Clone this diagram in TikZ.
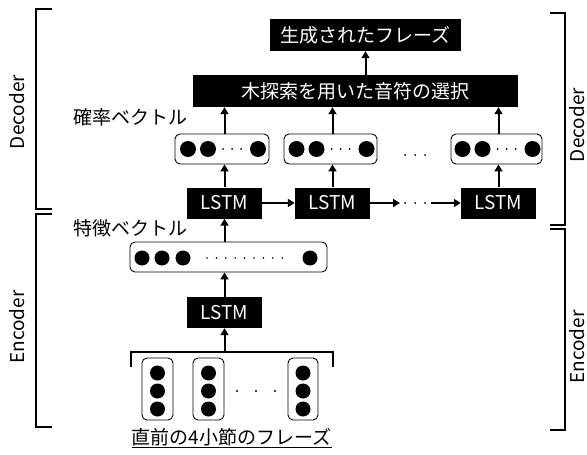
\documentclass[tikz,border=0pt]{standalone}
\usepackage{fontspec}
\setmainfont{Noto Sans CJK JP}
\usetikzlibrary{arrows.meta}
\begin{document}
\begin{tikzpicture}[x=1pt,y=-1pt,
  txt/.style={font=\fontsize{19pt}{22pt}\selectfont, inner sep=0pt},
  blk/.style={txt, fill=black, text=white},
  vec/.style={draw, rounded corners=5pt, line width=0.9pt, inner sep=0pt},
  conn/.style={line width=2pt, -{Triangle[length=7pt,width=8pt]}},
  brk/.style={line width=2pt},
  bigdot/.style={fill=black},
  smalldot/.style={fill=black}
]
\useasboundingbox (0,0) rectangle (587,455);

% decoder part
\node[blk, minimum width=191pt, minimum height=32pt] (gen) at (365.5,35) {生成されたフレーズ};
\node[blk, minimum width=325pt, minimum height=32pt] (sel) at (355.5,91) {木探索を用いた音符の選択};

\node[vec, minimum width=94pt, minimum height=30pt] (prob1) at (222,149) {};
\node[vec, minimum width=93pt, minimum height=30pt] (prob2) at (330.5,149) {};
\node[vec, minimum width=91pt, minimum height=30pt] (prob3) at (496.5,149) {};

\node[blk, minimum width=75pt, minimum height=31pt] (lstm1) at (224.5,203) {LSTM};
\node[blk, minimum width=75pt, minimum height=31pt] (lstm2) at (332.5,203) {LSTM};
\node[blk, minimum width=75pt, minimum height=31pt] (lstm3) at (498.5,203) {LSTM};

\node[txt, anchor=west] (plabel) at (73,117) {確率ベクトル};
\node[txt, anchor=west] (flabel) at (73,228) {特徴ベクトル};

% dots in prob boxes
\foreach \bx in {0,108.5,274.5}{
  \fill[bigdot] (188+\bx,149) circle (8pt);
  \fill[bigdot] (208+\bx,149) circle (8pt);
  \fill[bigdot] (258+\bx,149) circle (8pt);
  \foreach \sx in {223,232,241} \fill[smalldot] (\sx+\bx,149) circle (1pt);
}
\foreach \sx in {405,415,425} \fill[smalldot] (\sx,155) circle (1pt);

% arrows decoder
\draw[conn] (sel.north -| gen) -- (gen.south);
\draw[conn] (lstm1 |- prob1.north) -- (lstm1 |- sel.south);
\draw[conn] (lstm2 |- prob2.north) -- (lstm2 |- sel.south);
\draw[conn] (lstm3 |- prob3.north) -- (lstm3 |- sel.south);
\draw[conn] (lstm1.north) -- (lstm1 |- prob1.south);
\draw[conn] (lstm2.north) -- (lstm2 |- prob2.south);
\draw[conn] (lstm3.north) -- (lstm3 |- prob3.south);
\draw[conn] (lstm1.east) -- (lstm2.west);
\coordinate (d1) at (400,203);
\coordinate (d2) at (431,203);
\draw[conn] (lstm2.east) -- (d1);
\draw[conn] (d2) -- (lstm3.west);
\foreach \sx in {405,415,425} \fill[smalldot] (\sx,203) circle (1pt);

% encoder part
\node[vec, minimum width=197pt, minimum height=30pt] (feat) at (228.5,257) {};
\foreach \dx in {142,162,183} \fill[bigdot] (\dx,258) circle (7.5pt);
\fill[bigdot] (310,258) circle (7.5pt);
\foreach \k in {0,...,8} \fill[smalldot] (207+\k*9.4,258) circle (0.9pt);

\node[blk, minimum width=75pt, minimum height=31pt] (elstm) at (224.5,312.5) {LSTM};

\node[vec, minimum width=31pt, minimum height=62pt] (in1) at (157.5,389) {};
\node[vec, minimum width=31pt, minimum height=62pt] (in2) at (208.5,389) {};
\node[vec, minimum width=30pt, minimum height=62pt] (in3) at (303,389) {};
\foreach \cx in {157.5,208.5,303}
  \foreach \cy in {373,391,409} \fill[bigdot] (\cx,\cy) circle (7.5pt);
\foreach \sx in {237,256,275} \fill[smalldot] (\sx,391) circle (1.2pt);

\coordinate (bl) at (131,367);
\coordinate (br) at (333,367);
\coordinate (bm) at (224.5,352);
\draw[line width=2pt] (bl) -- (131,352) -- (333,352) -- (br);
\draw[conn] (bm) -- (elstm.south);
\draw[conn] (elstm.north) -- (elstm |- feat.south);
\draw[conn] (elstm |- feat.north) -- (lstm1.south);

\node[txt] (inlabel) at (231.5,437) {直前の4小節のフレーズ};
\draw[line width=0.8pt] ([yshift=-1.5pt]inlabel.south west) -- ([yshift=-1.5pt]inlabel.south east);

% brackets
\draw[brk] (52,9) -- (36,9) -- (36,209) -- (52,209);
\draw[brk] (52,214) -- (36,214) -- (36,427) -- (52,427);
\draw[brk] (550,13) -- (565,13) -- (565,225) -- (550,225);
\draw[brk] (550,229) -- (565,229) -- (565,430) -- (550,430);

\node[txt, rotate=90] (ldec) at (17.5,112) {Decoder};
\node[txt, rotate=90] (lenc) at (17.5,327) {Encoder};
\node[txt, rotate=90] (rdec) at (577.5,125) {Decoder};
\node[txt, rotate=90] (renc) at (577.5,347) {Encoder};
\end{tikzpicture}
\end{document}
